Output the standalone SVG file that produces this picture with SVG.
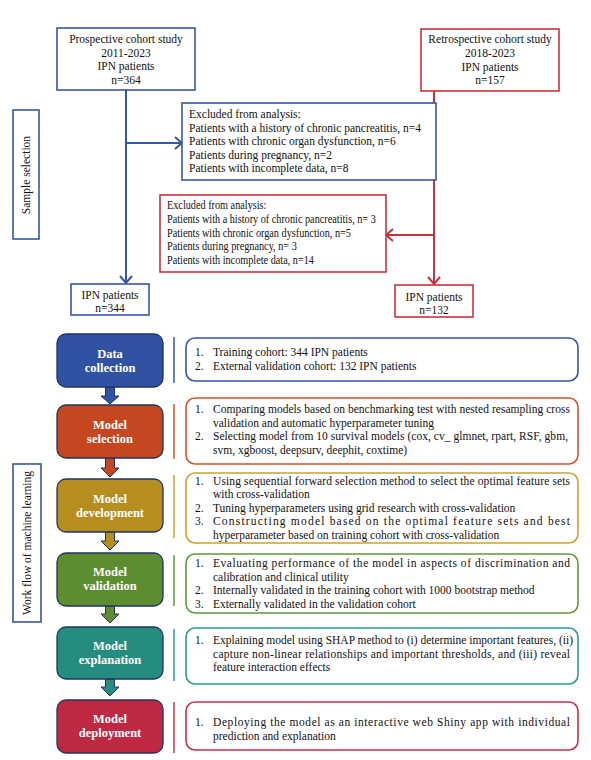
<svg xmlns="http://www.w3.org/2000/svg" width="591" height="760" viewBox="0 0 591 760">
<style>
text{font-family:"Liberation Serif","Times New Roman",serif;font-size:11.5px;fill:#111}
.c{text-anchor:middle}
.lbl{font-weight:bold;font-size:12.5px;fill:#fff;text-anchor:middle}
.bb{fill:#fff;stroke:#3556A6;stroke-width:1.6}
.rb{fill:#fff;stroke:#C8323C;stroke-width:1.6}
.bl{stroke:#3556A6;stroke-width:2;fill:none}
.rl{stroke:#C8323C;stroke-width:2;fill:none}
.node{stroke:#1F3560;stroke-width:1.3}
.sep{stroke-width:1.5}
.desc{fill:#fff;stroke-width:1.6}
</style>
<rect width="591" height="760" fill="#fff"/>

<!-- side labels -->
<g id="sample-selection-label">
<rect x="13" y="110" width="26" height="129" class="bb"/>
<text class="c" transform="translate(30,175) rotate(-90)">Sample selection</text>
</g>
<g id="workflow-label">
<rect x="13" y="464" width="28" height="158" class="bb"/>
<text class="c" transform="translate(31,543) rotate(-90)">Work flow of machine learning</text>
</g>

<!-- connectors -->
<g id="connectors">
<path class="bl" d="M126 90 V282 M126 143 H181"/>
<path class="bl" d="M120 276 L126 283 L132 276 M175 137 L182 143 L175 149"/>
<path class="rl" d="M434 91 V283 M434 235 H387"/>
<path class="rl" d="M428 277 L434 284 L440 277 M393 229 L386 235 L393 241"/>
<polygon points="105.5,387 114.5,387 114.5,396 119,396 110,404 101,396 105.5,396" fill="#2F52A3" stroke="#1F3560" stroke-width="1"/>
<polygon points="105.5,458 114.5,458 114.5,468 119,468 110,477 101,468 105.5,468" fill="#C4471F" stroke="#1F3560" stroke-width="1"/>
<polygon points="105.5,532 114.5,532 114.5,541 119,541 110,550 101,541 105.5,541" fill="#B58E1F" stroke="#1F3560" stroke-width="1"/>
<polygon points="105.5,606 114.5,606 114.5,614 119,614 110,623 101,614 105.5,614" fill="#5E8C31" stroke="#1F3560" stroke-width="1"/>
<polygon points="105.5,679 114.5,679 114.5,687 119,687 110,696 101,687 105.5,687" fill="#278C80" stroke="#1F3560" stroke-width="1"/>
</g>

<!-- sample selection nodes -->
<g id="prospective">
<rect x="57" y="28" width="138" height="62" class="bb"/>
<text class="c" x="126" y="43">Prospective cohort study</text>
<text class="c" x="126" y="56.5">2011-2023</text>
<text class="c" x="126" y="70">IPN patients</text>
<text class="c" x="126" y="83.5">n=364</text>
</g>
<g id="retrospective">
<rect x="421" y="29" width="138" height="62" class="rb"/>
<text class="c" x="490" y="43">Retrospective cohort study</text>
<text class="c" x="490" y="57">2018-2023</text>
<text class="c" x="490" y="70.5">IPN patients</text>
<text class="c" x="490" y="84">n=157</text>
</g>
<g id="excluded-prospective">
<rect x="182" y="103" width="254" height="77" class="bb"/>
<text x="189" y="117.5">Excluded from analysis:</text>
<text x="189" y="131.5">Patients with a history of chronic pancreatitis, n=4</text>
<text x="189" y="145">Patients with chronic organ dysfunction, n=6</text>
<text x="189" y="158.5">Patients during pregnancy, n=2</text>
<text x="189" y="172">Patients with incomplete data, n=8</text>
</g>
<g id="excluded-retrospective">
<rect x="160" y="195" width="226" height="77" class="rb"/>
<g transform="translate(167,0) scale(0.89,1)">
<text x="0" y="209.5">Excluded from analysis:</text>
<text x="0" y="223.5">Patients with a history of chronic pancreatitis, n= 3</text>
<text x="0" y="237">Patients with chronic organ dysfunction, n=5</text>
<text x="0" y="250.5">Patients during pregnancy, n= 3</text>
<text x="0" y="264">Patients with incomplete data, n=14</text>
</g>
</g>
<g id="ipn-prospective">
<rect x="71" y="284" width="78" height="31" class="bb"/>
<text class="c" x="110" y="299">IPN patients</text>
<text class="c" x="110" y="312">n=344</text>
</g>
<g id="ipn-retrospective">
<rect x="395" y="285" width="78" height="32" class="rb"/>
<text class="c" x="434" y="300.5">IPN patients</text>
<text class="c" x="434" y="313.5">n=132</text>
</g>

<!-- workflow -->
<g id="data-collection">
<rect x="57" y="334" width="106" height="53" rx="9" fill="#2F52A3" class="node"/>
<text class="lbl" x="110" y="358">Data</text>
<text class="lbl" x="110" y="372">collection</text>
<line x1="174" y1="337" x2="174" y2="383" stroke="#3556A6" class="sep"/>
<rect x="186" y="338" width="392" height="43" rx="9" stroke="#3556A6" class="desc"/>
<text x="195" y="356">1.</text><text x="213" y="356">Training cohort: 344 IPN patients</text>
<text x="195" y="369.5">2.</text><text x="213" y="369.5">External validation cohort: 132 IPN patients</text>
</g>

<g id="model-selection">
<rect x="57" y="405" width="106" height="53" rx="9" fill="#C4471F" class="node"/>
<text class="lbl" x="110" y="429">Model</text>
<text class="lbl" x="110" y="443">selection</text>
<line x1="174" y1="404" x2="174" y2="459" stroke="#D0542A" class="sep"/>
<rect x="186" y="398" width="392" height="66" rx="9" stroke="#D0542A" class="desc"/>
<text x="195" y="413">1.</text><text x="213" y="413" textLength="357" lengthAdjust="spacing">Comparing models based on benchmarking test with nested resampling cross</text>
<text x="213" y="426.5">validation and automatic hyperparameter tuning</text>
<text x="195" y="440">2.</text><text x="213" y="440" textLength="355" lengthAdjust="spacing">Selecting model from 10 survival models (cox, cv_ glmnet, rpart, RSF, gbm,</text>
<text x="213" y="453.5">svm, xgboost, deepsurv, deephit, coxtime)</text>
</g>

<g id="model-development">
<rect x="57" y="479" width="106" height="53" rx="9" fill="#B58E1F" class="node"/>
<text class="lbl" x="110" y="503">Model</text>
<text class="lbl" x="110" y="517">development</text>
<line x1="174" y1="475" x2="174" y2="538" stroke="#C9A22E" class="sep"/>
<rect x="186" y="473" width="392" height="70" rx="9" stroke="#C9A22E" class="desc"/>
<text x="195" y="484.5">1.</text><text x="213" y="484.5" textLength="357" lengthAdjust="spacing">Using sequential forward selection method to select the optimal feature sets</text>
<text x="213" y="498">with cross-validation</text>
<text x="195" y="511.5">2.</text><text x="213" y="511.5">Tuning hyperparameters using grid research with cross-validation</text>
<text x="195" y="525">3.</text><text x="213" y="525" textLength="357" lengthAdjust="spacing">Constructing model based on the optimal feature sets and best</text>
<text x="213" y="538.5">hyperparameter based on training cohort with cross-validation</text>
</g>

<g id="model-validation">
<rect x="57" y="553" width="106" height="53" rx="9" fill="#5E8C31" class="node"/>
<text class="lbl" x="110" y="576">Model</text>
<text class="lbl" x="110" y="590">validation</text>
<line x1="174" y1="555" x2="174" y2="606" stroke="#62993A" class="sep"/>
<rect x="186" y="554" width="392" height="59" rx="9" stroke="#62993A" class="desc"/>
<text x="195" y="567">1.</text><text x="213" y="567" textLength="357" lengthAdjust="spacing">Evaluating performance of the model in aspects of discrimination and</text>
<text x="213" y="580.5">calibration and clinical utility</text>
<text x="195" y="594">2.</text><text x="213" y="594">Internally validated in the training cohort with 1000 bootstrap method</text>
<text x="195" y="607.5">3.</text><text x="213" y="607.5">Externally validated in the validation cohort</text>
</g>

<g id="model-explanation">
<rect x="57" y="627" width="106" height="52" rx="9" fill="#278C80" class="node"/>
<text class="lbl" x="110" y="650">Model</text>
<text class="lbl" x="110" y="664">explanation</text>
<line x1="174" y1="629" x2="174" y2="681" stroke="#2E9A8E" class="sep"/>
<rect x="186" y="628" width="392" height="56" rx="9" stroke="#2E9A8E" class="desc"/>
<text x="195" y="644">1.</text><text x="213" y="644" textLength="360" lengthAdjust="spacing">Explaining model using SHAP method to (i) determine important features, (ii)</text>
<text x="213" y="657.5" textLength="357" lengthAdjust="spacing">capture non-linear relationships and important thresholds, and (iii) reveal</text>
<text x="213" y="671">feature interaction effects</text>
</g>

<g id="model-deployment">
<rect x="57" y="700" width="106" height="53" rx="9" fill="#BE2842" class="node"/>
<text class="lbl" x="110" y="723">Model</text>
<text class="lbl" x="110" y="737">deployment</text>
<line x1="174" y1="702" x2="174" y2="753" stroke="#C83048" class="sep"/>
<rect x="186" y="702" width="392" height="48" rx="9" stroke="#C83048" class="desc"/>
<text x="195" y="726">1.</text><text x="213" y="726" textLength="357" lengthAdjust="spacing">Deploying the model as an interactive web Shiny app with individual</text>
<text x="213" y="739.5">prediction and explanation</text>
</g>
</svg>
